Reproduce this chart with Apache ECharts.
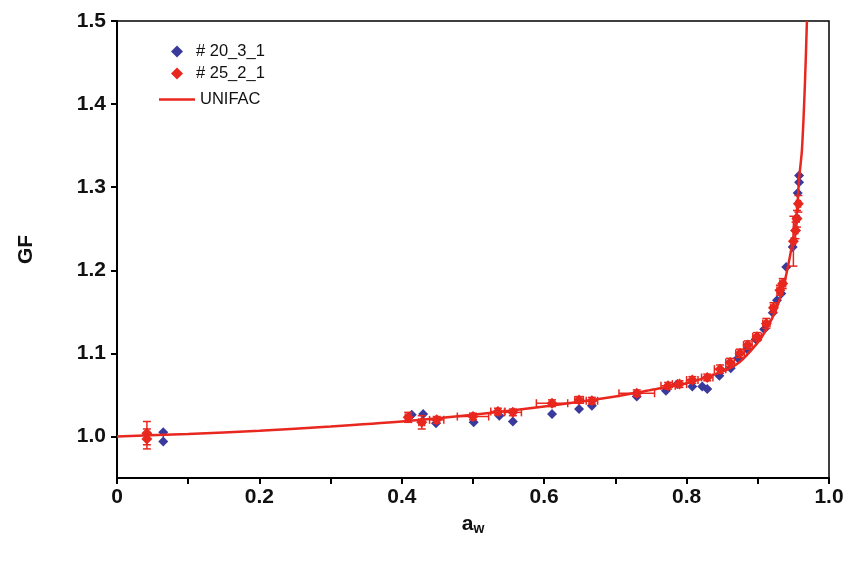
<!DOCTYPE html>
<html>
<head>
<meta charset="utf-8">
<script src="https://cdn.jsdelivr.net/npm/echarts@6/dist/echarts.min.js"></script>
<style>
  html, body { margin: 0; padding: 0; background: #fff; }
  #chart { width: 851px; height: 562px; }
</style>
</head>
<body>
<div id="chart"></div>
<script>
// #20_3_1 (blue diamonds)
const blueAw = [0.065, 0.065, 0.414, 0.430, 0.448, 0.501, 0.537, 0.556, 0.611, 0.649, 0.667, 0.730,
  0.771, 0.787, 0.808, 0.822, 0.829, 0.846, 0.862, 0.872, 0.885, 0.897, 0.909, 0.921, 0.927,
  0.933, 0.940, 0.949, 0.953, 0.955, 0.956, 0.958, 0.958];
const blueGF = [1.005, 0.994, 1.026, 1.027, 1.016, 1.017, 1.025, 1.018, 1.027, 1.033, 1.037, 1.048,
  1.055, 1.063, 1.060, 1.060, 1.057, 1.073, 1.082, 1.094, 1.105, 1.117, 1.129, 1.149, 1.164,
  1.172, 1.204, 1.228, 1.248, 1.263, 1.293, 1.306, 1.314];

// #25_2_1 (red diamonds, with error bars)
const redAw = [0.042, 0.042, 0.409, 0.428, 0.449, 0.500, 0.535, 0.556, 0.611, 0.649, 0.667, 0.730,
  0.774, 0.790, 0.808, 0.829, 0.847, 0.861, 0.875, 0.886, 0.899, 0.912, 0.922, 0.931, 0.935,
  0.950, 0.953, 0.955, 0.957];
const redGF = [1.004, 0.997, 1.023, 1.017, 1.020, 1.024, 1.030, 1.029, 1.040, 1.044, 1.043, 1.052,
  1.061, 1.063, 1.068, 1.071, 1.081, 1.089, 1.100, 1.110, 1.120, 1.136, 1.155, 1.176, 1.184,
  1.235, 1.248, 1.262, 1.280];
const redAwErr = [0, 0, 0.004, 0.004, 0.010, 0.022, 0.010, 0.012, 0.022, 0.006, 0.008, 0.025,
  0.010, 0.010, 0.008, 0.008, 0.008, 0.006, 0.006, 0.006, 0.006, 0.005, 0.004, 0.004, 0.004,
  0.003, 0.003, 0.003, 0.003];
const redGFErr = [0.014, 0.012, 0.006, 0.008, 0.004, 0.004, 0.004, 0.004, 0.004, 0.004, 0.004, 0.004,
  0.004, 0.004, 0.004, 0.004, 0.005, 0.005, 0.005, 0.005, 0.005, 0.006, 0.006, 0.006, 0.006,
  0.030, 0.010, 0.010, 0.010];

// UNIFAC curve
const unifacAw = [0, 0.1, 0.2, 0.3, 0.4, 0.5, 0.6, 0.7, 0.75, 0.8, 0.85, 0.875, 0.9, 0.91, 0.92,
  0.93, 0.94, 0.95, 0.955, 0.958, 0.962, 0.966, 0.969];
const unifacGF = [1.000, 1.003, 1.007, 1.012, 1.018, 1.026, 1.036, 1.048, 1.056, 1.064, 1.078, 1.090,
  1.113, 1.126, 1.142, 1.163, 1.195, 1.240, 1.272, 1.310, 1.345, 1.420, 1.500];

// axis ticks
const xTicks = [0, 0.1, 0.2, 0.3, 0.4, 0.5, 0.6, 0.7, 0.8, 0.9, 1.0];
const xLabels = [0, 0.2, 0.4, 0.6, 0.8, 1.0];
const yLabels = [1.0, 1.1, 1.2, 1.3, 1.4, 1.5];

const BLUE = '#3a3a9c';
const RED = '#e8271f';
const FONT = '"Liberation Sans", Arial, sans-serif';

const zip = (a, b) => a.map((v, i) => [v, b[i]]);
const redErrData = redAw.map((v, i) => [v, redGF[i], redAwErr[i], redGFErr[i]]);

// error bars (x and y) with caps
function renderErr(params, api) {
  const x = api.value(0), y = api.value(1), dx = api.value(2), dy = api.value(3);
  const cap = 4;
  const style = { stroke: RED, lineWidth: 1.5 };
  const kids = [];
  if (dy > 0) {
    const top = api.coord([x, y + dy]), bot = api.coord([x, y - dy]);
    kids.push({ type: 'line', shape: { x1: top[0], y1: top[1], x2: bot[0], y2: bot[1] }, style });
    kids.push({ type: 'line', shape: { x1: top[0] - cap, y1: top[1], x2: top[0] + cap, y2: top[1] }, style });
    kids.push({ type: 'line', shape: { x1: bot[0] - cap, y1: bot[1], x2: bot[0] + cap, y2: bot[1] }, style });
  }
  if (dx > 0) {
    const l = api.coord([x - dx, y]), r = api.coord([x + dx, y]);
    kids.push({ type: 'line', shape: { x1: l[0], y1: l[1], x2: r[0], y2: r[1] }, style });
    kids.push({ type: 'line', shape: { x1: l[0], y1: l[1] - cap, x2: l[0], y2: l[1] + cap }, style });
    kids.push({ type: 'line', shape: { x1: r[0], y1: r[1] - cap, x2: r[0], y2: r[1] + cap }, style });
  }
  return { type: 'group', children: kids };
}

const legendText = { fontSize: 16.5, color: '#111', fontFamily: FONT };

const chart = echarts.init(document.getElementById('chart'), null, { renderer: 'canvas' });

chart.setOption({
  animation: false,
  backgroundColor: '#fff',
  textStyle: { fontFamily: FONT },
  grid: {
    left: 117, right: 22, top: 21, bottom: 84,
    show: true, borderColor: '#000', borderWidth: 1.5
  },
  legend: [
    {
      orient: 'vertical',
      left: 166, top: 38,
      itemWidth: 12, itemHeight: 12, itemGap: 5,
      textStyle: Object.assign({ padding: [0, 0, 0, 8] }, legendText),
      data: [
        { name: '# 20_3_1', icon: 'diamond' },
        { name: '# 25_2_1', icon: 'diamond' }
      ]
    },
    {
      orient: 'vertical',
      left: 154, top: 86,
      itemWidth: 36, itemHeight: 2.5,
      textStyle: legendText,
      data: [{ name: 'UNIFAC', icon: 'rect' }]
    }
  ],
  xAxis: {
    type: 'value',
    min: 0, max: 1.0,
    name: '{a|a}{w|w}',
    nameLocation: 'middle',
    nameGap: 34,
    nameTextStyle: {
      rich: {
        a: { fontSize: 21, fontWeight: 'bold', fontFamily: FONT, color: '#111' },
        w: { fontSize: 14, fontWeight: 'bold', fontFamily: FONT, color: '#111', verticalAlign: 'bottom', padding: [10, 0, 0, 0] }
      }
    },
    axisLine: { lineStyle: { color: '#000', width: 2 } },
    axisTick: { customValues: xTicks, length: 6, lineStyle: { color: '#000', width: 2 } },
    axisLabel: {
      customValues: xLabels,
      margin: 9,
      fontSize: 21, fontWeight: 'bold', color: '#111', fontFamily: FONT,
      formatter: v => (v === 0 ? '0' : v.toFixed(1))
    },
    splitLine: { show: false }
  },
  yAxis: {
    type: 'value',
    min: 0.95, max: 1.5,
    name: 'GF',
    nameLocation: 'middle',
    nameGap: 80,
    nameTextStyle: { fontSize: 21, fontWeight: 'bold', color: '#111', fontFamily: FONT },
    axisLine: { lineStyle: { color: '#000', width: 2 } },
    axisTick: { customValues: yLabels, length: 6, lineStyle: { color: '#000', width: 2 } },
    axisLabel: {
      customValues: yLabels,
      margin: 11,
      fontSize: 21, fontWeight: 'bold', color: '#111', fontFamily: FONT,
      formatter: v => v.toFixed(1)
    },
    splitLine: { show: false }
  },
  series: [
    {
      name: '# 20_3_1',
      type: 'scatter',
      symbol: 'diamond',
      symbolSize: 10,
      itemStyle: { color: BLUE, opacity: 1 },
      data: zip(blueAw, blueGF),
      z: 3
    },
    {
      name: 'errbars',
      type: 'custom',
      renderItem: renderErr,
      encode: { x: 0, y: 1 },
      data: redErrData,
      z: 4
    },
    {
      name: '# 25_2_1',
      type: 'scatter',
      symbol: 'diamond',
      symbolSize: 11,
      itemStyle: { color: RED, opacity: 1 },
      data: zip(redAw, redGF),
      z: 4
    },
    {
      name: 'UNIFAC',
      type: 'line',
      showSymbol: false,
      symbol: 'none',
      smooth: 0.3,
      clip: true,
      lineStyle: { color: RED, width: 2.5 },
      itemStyle: { color: RED },
      data: zip(unifacAw, unifacGF),
      z: 5
    }
  ]
});
</script>
</body>
</html>
